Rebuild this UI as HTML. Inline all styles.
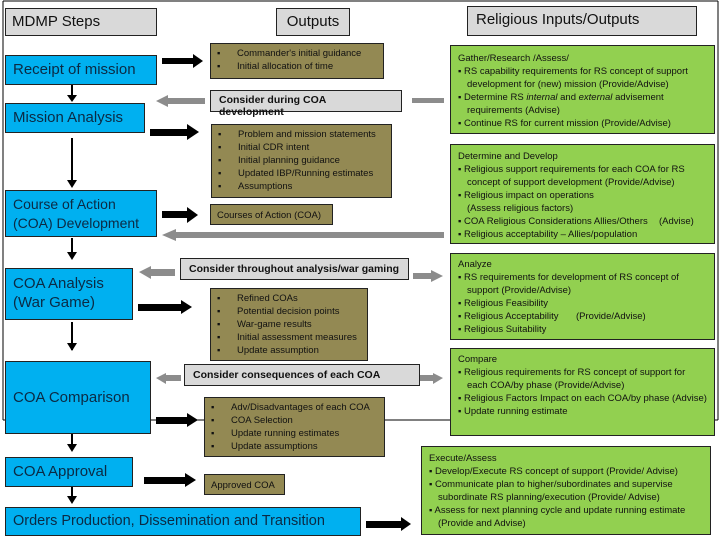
<!DOCTYPE html>
<html><head><meta charset="utf-8"><style>
*{margin:0;padding:0;box-sizing:border-box}
body{width:720px;height:540px;background:#fff;position:relative;overflow:hidden;font-family:"Liberation Sans",sans-serif}
.b{position:absolute;border:1px solid #222}
.g{background:#d9d9d9;font-size:15px;color:#111;padding:4px 6px}
.s{background:#00b0f0;color:#0b2a44;font-size:15px;padding:4px 7px;line-height:19px}
.o{background:#938953;color:#111;font-size:9.5px;line-height:13px;padding:3px 6px}
.o ul{list-style:none}
.o li:before{content:"▪";display:inline-block;width:20px}
.c{background:#d9d9d9;font-size:10.5px;color:#111;padding:3px 8px;font-weight:bold}
.gr{background:#92d050;color:#111;font-size:9.5px;line-height:13px;padding:3px 7px}
.gr p{padding-left:9px;text-indent:-9px}
svg{position:absolute;left:0;top:0}
</style></head><body>
<svg width="720" height="540">
<g stroke="#000" stroke-width="1" fill="none">
<line x1="3" y1="1" x2="718" y2="1"/><line x1="3" y1="1" x2="3" y2="420"/><line x1="718" y1="1" x2="718" y2="420"/><line x1="3" y1="420" x2="718" y2="420"/>
</g>
<g fill="#000">
<!-- down arrows -->
<rect x="71" y="85" width="2" height="10"/><polygon points="67,95 77,95 72,102"/>
<rect x="71" y="138" width="2" height="42"/><polygon points="67,180 77,180 72,188"/>
<rect x="71" y="238" width="2" height="20"/><polygon points="67,252 77,252 72,260"/>
<rect x="71" y="322" width="2" height="28"/><polygon points="67,343 77,343 72,351"/>
<rect x="71" y="434" width="2" height="14"/><polygon points="67,444 77,444 72,452"/>
<rect x="71" y="487" width="2" height="12"/><polygon points="67,496 77,496 72,504"/>
<!-- right black arrows -->
<rect x="162" y="58" width="32" height="6"/><polygon points="193,54 203,61 193,68"/>
<rect x="150" y="129" width="38" height="7"/><polygon points="187,124 199,132 187,140"/>
<rect x="162" y="211" width="26" height="7"/><polygon points="187,207 198,215 187,223"/>
<rect x="138" y="304" width="44" height="7"/><polygon points="181,300 192,307 181,314"/>
<rect x="156" y="417" width="32" height="7"/><polygon points="187,413 198,420 187,427"/>
<rect x="144" y="477" width="42" height="7"/><polygon points="185,473 196,480 185,487"/>
<rect x="366" y="521" width="36" height="7"/><polygon points="401,517 411,524 401,531"/>
</g>
<g fill="#8c8c8c">
<polygon points="156,101 168,95 168,98 205,98 205,104 168,104 168,107"/>
<rect x="412" y="98" width="32" height="5"/>
<polygon points="162,235 176,229 176,232 444,232 444,238 176,238 176,241"/>
<polygon points="139,272 151,266 151,269 175,269 175,276 151,276 151,279"/>
<polygon points="156,378 166,373 166,375 181,375 181,381 166,381 166,384"/>
<polygon points="443,276 431,270 431,273 413,273 413,279 431,279 431,282"/>
<polygon points="443,378 433,373 433,375 416,375 416,381 433,381 433,384"/>
</g>
<g stroke="#000" fill="none" stroke-width="1">
<polyline points="657,200 662,200 662,240 657,240"/><line x1="662" y1="218" x2="666" y2="218"/>
<polyline points="560,300 565,300 565,335 560,335"/><line x1="565" y1="318" x2="569" y2="318"/>
</g>
</svg>

<div class="b g" style="left:5px;top:8px;width:152px;height:28px">MDMP Steps</div>
<div class="b g" style="left:276px;top:8px;width:74px;height:28px;text-align:center;padding:4px 0">Outputs</div>
<div class="b g" style="left:467px;top:6px;width:230px;height:30px;padding-left:8px">Religious Inputs/Outputs</div>

<div class="b s" style="left:5px;top:55px;width:152px;height:30px">Receipt of mission</div>
<div class="b s" style="left:5px;top:103px;width:140px;height:30px">Mission Analysis</div>
<div class="b s" style="left:5px;top:190px;width:152px;height:47px;font-size:14px;padding-top:4px">Course of Action<br>(COA) Development</div>
<div class="b s" style="left:5px;top:268px;width:128px;height:52px;padding-top:5px">COA Analysis<br>(War Game)</div>
<div class="b s" style="left:5px;top:361px;width:146px;height:73px;padding-top:26px">COA Comparison</div>
<div class="b s" style="left:5px;top:457px;width:128px;height:30px">COA Approval</div>
<div class="b s" style="left:5px;top:507px;width:356px;height:29px;font-size:14.5px">Orders Production, Dissemination and Transition</div>

<div class="b o" style="left:210px;top:43px;width:174px;height:36px"><ul><li>Commander's initial guidance</li><li>Initial allocation of time</li></ul></div>
<div class="b c" style="left:210px;top:90px;width:192px;height:22px">Consider during COA development</div>
<div class="b o" style="left:211px;top:124px;width:181px;height:74px"><ul><li>Problem and mission statements</li><li>Initial CDR intent</li><li>Initial planning guidance</li><li>Updated IBP/Running estimates</li><li>Assumptions</li></ul></div>
<div class="b o" style="left:210px;top:204px;width:123px;height:21px;padding-top:4px">Courses of Action (COA)</div>
<div class="b c" style="left:180px;top:258px;width:229px;height:22px;padding-top:4px">Consider throughout analysis/war gaming</div>
<div class="b o" style="left:210px;top:288px;width:158px;height:73px;padding-top:3px"><ul><li>Refined COAs</li><li>Potential decision points</li><li>War-game results</li><li>Initial assessment measures</li><li>Update assumption</li></ul></div>
<div class="b c" style="left:184px;top:364px;width:236px;height:22px;padding-top:4px">Consider consequences of each COA</div>
<div class="b o" style="left:204px;top:397px;width:181px;height:60px;padding-top:3px"><ul><li>Adv/Disadvantages of each COA</li><li>COA Selection</li><li>Update running estimates</li><li>Update assumptions</li></ul></div>
<div class="b o" style="left:204px;top:474px;width:81px;height:21px;padding-top:4px">Approved COA</div>

<div class="b gr" style="left:450px;top:45px;width:265px;height:89px;padding-top:6px">Gather/Research /Assess/<p>▪ RS capability requirements for RS concept of support development for (new) mission (Provide/Advise)</p><p>▪ Determine RS <i>internal</i> and <i>external</i> advisement requirements (Advise)</p><p>▪ Continue RS for current mission (Provide/Advise)</p></div>
<div class="b gr" style="left:450px;top:144px;width:265px;height:100px;padding-top:5px">Determine and Develop<p>▪ Religious support requirements for each COA for RS concept of support development (Provide/Advise)</p><p>▪ Religious impact on operations<br>(Assess religious factors)</p><p>▪ COA Religious Considerations Allies/Others <span style="position:absolute;left:217px">(Advise)</span></p><p>▪ Religious acceptability – Allies/population</p></div>
<div class="b gr" style="left:450px;top:253px;width:265px;height:87px;padding-top:4px">Analyze<p>▪ RS requirements for development of RS concept of support (Provide/Advise)</p><p>▪ Religious Feasibility</p><p>▪ Religious Acceptability <span style="position:absolute;left:134px">(Provide/Advise)</span></p><p>▪ Religious Suitability</p></div>
<div class="b gr" style="left:450px;top:348px;width:265px;height:88px;padding-top:4px">Compare<p>▪ Religious requirements for RS concept of support for each COA/by phase (Provide/Advise)</p><p>▪ Religious Factors Impact on each COA/by phase (Advise)</p><p>▪ Update running estimate</p></div>
<div class="b gr" style="left:421px;top:446px;width:290px;height:89px;padding-top:5px">Execute/Assess<p>▪ Develop/Execute RS concept of support (Provide/ Advise)</p><p>▪ Communicate plan to higher/subordinates and supervise subordinate RS planning/execution (Provide/ Advise)</p><p>▪ Assess for next planning cycle and update running estimate (Provide and Advise)</p></div>
</body></html>
